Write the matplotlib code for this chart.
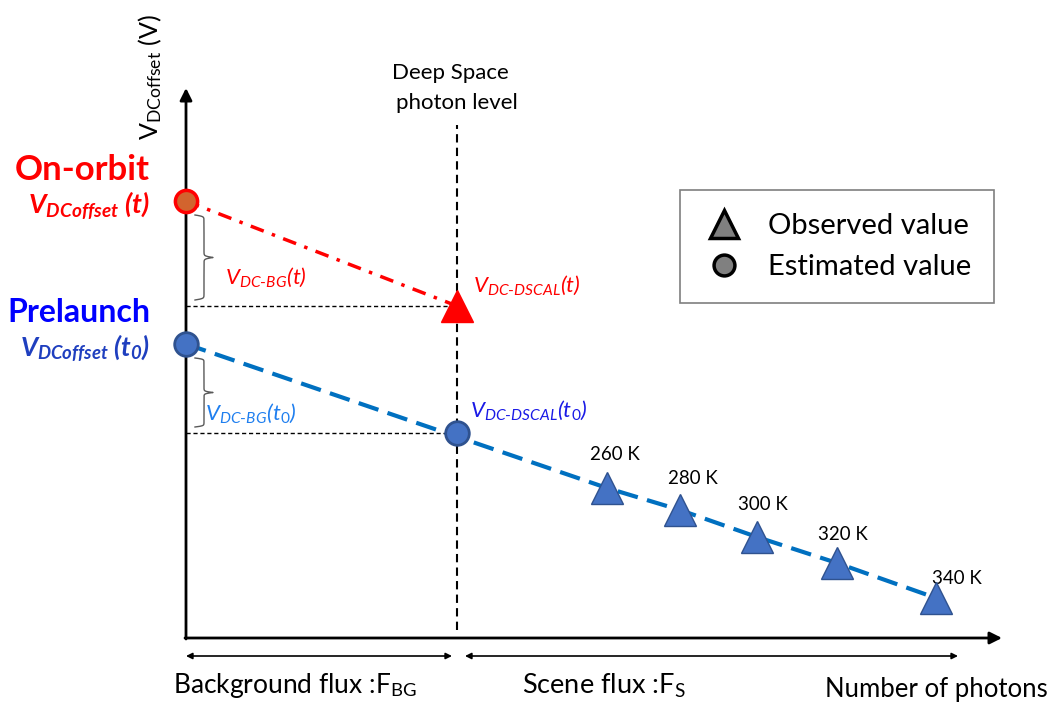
import numpy as np
import matplotlib.pyplot as plt
from matplotlib.lines import Line2D

plt.rcParams['font.family'] = ['Lato', 'DejaVu Sans']
plt.rcParams['mathtext.fontset'] = 'custom'
plt.rcParams['mathtext.rm'] = 'Lato'
plt.rcParams['mathtext.it'] = 'Lato:italic'
plt.rcParams['mathtext.bf'] = 'Lato:bold'
plt.rcParams['mathtext.bfit'] = 'Lato:bold:italic'

# schematic values (arbitrary units, origin where the axes meet)
deep_space_x = 271
onorbit_offset = 437
onorbit_dscal = 332
prelaunch_offset = 294
prelaunch_dscal = 205
scene_temps = ['260 K', '280 K', '300 K', '320 K', '340 K']
scene_x = [421, 494, 571, 651, 750]
scene_v = [150, 128, 101, 75, 40]

# where each temperature label sits relative to its triangle
label_dx = [-17, -12, -19, -19, -4]
label_dy = [33, 32, 32, 28, 20]

fig = plt.figure(figsize=(10.48, 7.04), dpi=100)
ax = fig.add_axes([0, 0, 1, 1])
ax.set_xlim(-186, 862)
ax.set_ylim(-66, 638)
ax.axis('off')

red = '#FF0000'
blue_fill = '#4472C4'
blue_edge = '#2F528F'
blue_line = '#0070C0'


def brace(x, y_lo, y_hi, w, color='#595959'):
    # curly brace "}" with the tip pointing right
    half = (y_hi - y_lo) / 2
    s = np.linspace(0, half, 200)
    k = 60.0 / half
    xs = 1 / (1 + np.exp(-k * (s - s[0]))) + 1 / (1 + np.exp(-k * (s - s[-1])))
    xs = (xs - xs.min()) / (xs.max() - xs.min()) * w
    xx = np.concatenate([xs, xs[::-1]])
    yy = np.concatenate([y_lo + s, y_lo + half + s])
    ax.plot(x + xx, yy, color=color, lw=1.0)


# axes with arrows
ax.annotate('', xy=(0, 550), xytext=(0, -1),
            arrowprops=dict(arrowstyle='-|>', lw=2, color='black',
                            mutation_scale=18, shrinkA=0, shrinkB=0))
ax.annotate('', xy=(816, 0), xytext=(-1, 0),
            arrowprops=dict(arrowstyle='-|>', lw=2, color='black',
                            mutation_scale=18, shrinkA=0, shrinkB=0))

# deep space level
ax.plot([deep_space_x, deep_space_x], [8, 513], color='black', lw=1.5,
        linestyle=(0, (4, 2.5)))
ax.text(deep_space_x - 7, 565, 'Deep Space', ha='center', va='center', fontsize=16)
ax.text(deep_space_x, 535, 'photon level', ha='center', va='center', fontsize=16)

# horizontal guides
for v in [onorbit_dscal, prelaunch_dscal]:
    ax.plot([0, deep_space_x], [v, v], color='black', lw=1.0,
            linestyle=(0, (3, 2)))

# on-orbit line
ax.plot([0, deep_space_x], [onorbit_offset, onorbit_dscal], color=red, lw=2.5,
        linestyle=(0, (4, 2.5, 1, 2.5)), zorder=3)
ax.plot(0, onorbit_offset, 'o', ms=16, mfc='#D2642E', mec=red, mew=2.5, zorder=5)
ax.plot(deep_space_x, onorbit_dscal, '^', ms=23, mfc=red, mec=red, zorder=5)

# prelaunch line through scene points
ax.plot([0] + scene_x, [prelaunch_offset] + scene_v, color=blue_line, lw=3,
        linestyle=(0, (5, 2.3)), zorder=3)
ax.plot(0, prelaunch_offset, 'o', ms=17, mfc=blue_fill, mec=blue_edge, mew=2, zorder=5)
ax.plot(deep_space_x, prelaunch_dscal, 'o', ms=17, mfc=blue_fill, mec=blue_edge,
        mew=2, zorder=5)
ax.plot(scene_x, scene_v, '^', ms=23, mfc=blue_fill, mec=blue_edge, mew=1,
        linestyle='none', zorder=4)
for x, v, t, dx, dy in zip(scene_x, scene_v, scene_temps, label_dx, label_dy):
    ax.text(x + dx, v + dy, t, ha='left', va='center', fontsize=13.5)

# braces
brace(9, onorbit_dscal + 6, onorbit_offset - 14, 18)
brace(9, prelaunch_dscal + 6, prelaunch_offset - 14, 18)

# labels
ax.text(-36, 468, 'On-orbit', color=red, fontsize=25, fontweight='bold',
        ha='right', va='center')
ax.text(-36, 432, r'V$_{\mathbfit{DCoffset}}$ (t)', color=red, fontsize=19.5,
        fontweight='bold', style='italic', ha='right', va='center')
ax.text(-36, 326, 'Prelaunch', color='#0000FF', fontsize=23, fontweight='bold',
        ha='right', va='center')
ax.text(-36, 290, r'V$_{\mathbfit{DCoffset}}$ (t$_{\mathbfit{0}}$)', color='#1F3FBF',
        fontsize=19, fontweight='bold', style='italic', ha='right', va='center')

ax.text(39, 361, r'V$_{\mathit{DC\text{-}BG}}$(t)', color=red, fontsize=16,
        style='italic', ha='left', va='center')
ax.text(287, 353, r'V$_{\mathit{DC\text{-}DSCAL}}$(t)', color=red, fontsize=16,
        style='italic', ha='left', va='center')
ax.text(19, 225, r'V$_{\mathit{DC\text{-}BG}}$(t$_{\mathit{0}}$)', color='#1F7FEF',
        fontsize=16, style='italic', ha='left', va='center')
ax.text(284, 228, r'V$_{\mathit{DC\text{-}DSCAL}}$(t$_{\mathit{0}}$)', color='#1A1AE6',
        fontsize=16, style='italic', ha='left', va='center')

ax.text(-36, 561, r'V$_{\mathrm{DCoffset}}$ (V)', rotation=90, fontsize=18,
        ha='center', va='center')

# flux ranges
ax.annotate('', xy=(0, -18), xytext=(266, -18),
            arrowprops=dict(arrowstyle='<|-|>', lw=1.2, color='black',
                            mutation_scale=9, shrinkA=0, shrinkB=0))
ax.annotate('', xy=(279, -18), xytext=(772, -18),
            arrowprops=dict(arrowstyle='<|-|>', lw=1.2, color='black',
                            mutation_scale=9, shrinkA=0, shrinkB=0))
ax.text(-13, -48, r'Background flux :F$_{\mathrm{BG}}$', fontsize=19,
        ha='left', va='center')
ax.text(336, -48, r'Scene flux :F$_{\mathrm{S}}$', fontsize=19.5,
        ha='left', va='center')
ax.text(639, -52, 'Number of photons', fontsize=18.5, ha='left', va='center')

# legend
handles = [
    Line2D([], [], marker='^', ms=20, mfc='#808080', mec='black', mew=2.5,
           linestyle='none', label='Observed value'),
    Line2D([], [], marker='o', ms=15, mfc='#808080', mec='black', mew=2.5,
           linestyle='none', label='Estimated value'),
]
leg = ax.legend(handles=handles, loc='upper left',
                bbox_to_anchor=(680 / 1048, 1 - 190 / 704),
                bbox_transform=fig.transFigure, fontsize=21, frameon=True,
                fancybox=False, framealpha=1, edgecolor='#7f7f7f',
                borderaxespad=0, borderpad=0.8, handletextpad=0.8,
                labelspacing=0.5, handlelength=1.4)
leg.get_frame().set_linewidth(1.2)

fig.savefig('out.png', dpi=100)
